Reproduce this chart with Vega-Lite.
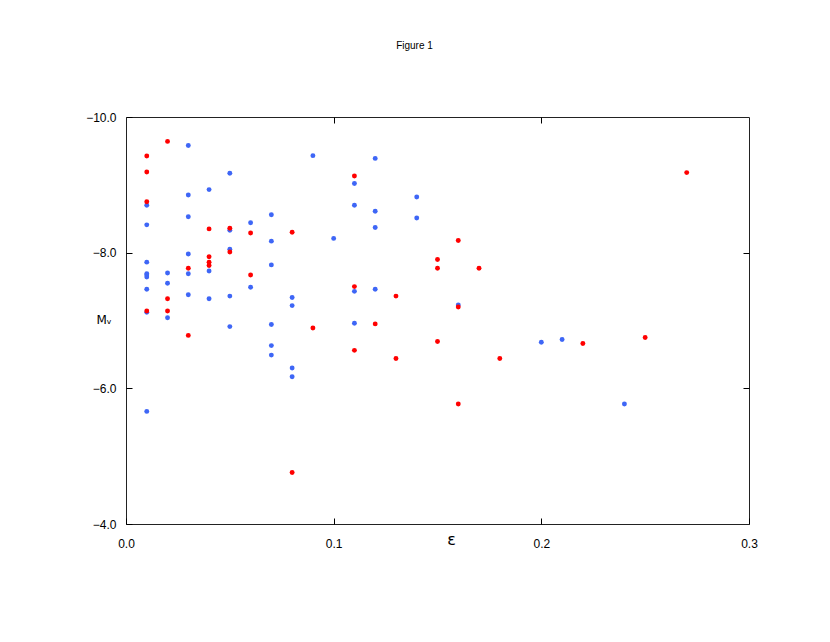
{
  "$schema": "https://vega.github.io/schema/vega-lite/v6.json",
  "width": 623,
  "height": 407,
  "autosize": {"type": "none"},
  "padding": {"left": 126, "top": 117, "right": 81, "bottom": 118},
  "background": "white",
  "config": {"view": {"stroke": "#222222", "strokeWidth": 1}, "font": "Liberation Sans"},
  "title": {"text": "Figure 1", "fontSize": 10, "fontWeight": "normal", "font": "Liberation Sans", "color": "#000000", "anchor": "middle", "frame": "group", "baseline": "alphabetic", "offset": 52, "dx": -23},
  "data": {"values": [
    {"e": 0.01, "m": -8.70, "s": "blue"}, {"e": 0.01, "m": -8.41, "s": "blue"}, {"e": 0.01, "m": -7.86, "s": "blue"},
    {"e": 0.01, "m": -7.69, "s": "blue"}, {"e": 0.01, "m": -7.67, "s": "blue"}, {"e": 0.01, "m": -7.64, "s": "blue"},
    {"e": 0.01, "m": -7.46, "s": "blue"}, {"e": 0.01, "m": -7.12, "s": "blue"}, {"e": 0.01, "m": -5.66, "s": "blue"},
    {"e": 0.02, "m": -7.70, "s": "blue"}, {"e": 0.02, "m": -7.55, "s": "blue"}, {"e": 0.02, "m": -7.04, "s": "blue"},
    {"e": 0.03, "m": -9.58, "s": "blue"}, {"e": 0.03, "m": -8.85, "s": "blue"}, {"e": 0.03, "m": -8.53, "s": "blue"},
    {"e": 0.03, "m": -7.98, "s": "blue"}, {"e": 0.03, "m": -7.69, "s": "blue"}, {"e": 0.03, "m": -7.38, "s": "blue"},
    {"e": 0.04, "m": -8.93, "s": "blue"}, {"e": 0.04, "m": -7.73, "s": "blue"}, {"e": 0.04, "m": -7.32, "s": "blue"},
    {"e": 0.05, "m": -9.17, "s": "blue"}, {"e": 0.05, "m": -8.33, "s": "blue"}, {"e": 0.05, "m": -8.05, "s": "blue"},
    {"e": 0.05, "m": -7.36, "s": "blue"}, {"e": 0.05, "m": -6.91, "s": "blue"},
    {"e": 0.06, "m": -8.44, "s": "blue"}, {"e": 0.06, "m": -7.49, "s": "blue"},
    {"e": 0.07, "m": -8.56, "s": "blue"}, {"e": 0.07, "m": -8.17, "s": "blue"}, {"e": 0.07, "m": -7.82, "s": "blue"},
    {"e": 0.07, "m": -6.94, "s": "blue"}, {"e": 0.07, "m": -6.63, "s": "blue"}, {"e": 0.07, "m": -6.49, "s": "blue"},
    {"e": 0.08, "m": -7.34, "s": "blue"}, {"e": 0.08, "m": -7.22, "s": "blue"}, {"e": 0.08, "m": -6.30, "s": "blue"},
    {"e": 0.08, "m": -6.17, "s": "blue"},
    {"e": 0.09, "m": -9.43, "s": "blue"},
    {"e": 0.10, "m": -8.21, "s": "blue"},
    {"e": 0.11, "m": -9.02, "s": "blue"}, {"e": 0.11, "m": -8.70, "s": "blue"}, {"e": 0.11, "m": -7.43, "s": "blue"},
    {"e": 0.11, "m": -6.96, "s": "blue"},
    {"e": 0.12, "m": -9.39, "s": "blue"}, {"e": 0.12, "m": -8.61, "s": "blue"}, {"e": 0.12, "m": -8.37, "s": "blue"},
    {"e": 0.12, "m": -7.46, "s": "blue"},
    {"e": 0.14, "m": -8.82, "s": "blue"}, {"e": 0.14, "m": -8.51, "s": "blue"},
    {"e": 0.16, "m": -7.23, "s": "blue"},
    {"e": 0.20, "m": -6.68, "s": "blue"}, {"e": 0.21, "m": -6.72, "s": "blue"}, {"e": 0.24, "m": -5.77, "s": "blue"},
    {"e": 0.01, "m": -9.425, "s": "red"}, {"e": 0.01, "m": -9.19, "s": "red"}, {"e": 0.01, "m": -8.75, "s": "red"},
    {"e": 0.01, "m": -7.14, "s": "red"},
    {"e": 0.02, "m": -9.64, "s": "red"}, {"e": 0.02, "m": -7.32, "s": "red"}, {"e": 0.02, "m": -7.14, "s": "red"},
    {"e": 0.03, "m": -7.77, "s": "red"}, {"e": 0.03, "m": -6.78, "s": "red"},
    {"e": 0.04, "m": -8.35, "s": "red"}, {"e": 0.04, "m": -7.94, "s": "red"}, {"e": 0.04, "m": -7.86, "s": "red"},
    {"e": 0.04, "m": -7.81, "s": "red"},
    {"e": 0.05, "m": -8.36, "s": "red"}, {"e": 0.05, "m": -8.01, "s": "red"},
    {"e": 0.06, "m": -8.29, "s": "red"}, {"e": 0.06, "m": -7.67, "s": "red"},
    {"e": 0.08, "m": -8.30, "s": "red"}, {"e": 0.08, "m": -4.76, "s": "red"},
    {"e": 0.09, "m": -6.89, "s": "red"},
    {"e": 0.11, "m": -9.13, "s": "red"}, {"e": 0.11, "m": -7.50, "s": "red"}, {"e": 0.11, "m": -6.56, "s": "red"},
    {"e": 0.12, "m": -6.95, "s": "red"},
    {"e": 0.13, "m": -7.36, "s": "red"}, {"e": 0.13, "m": -6.44, "s": "red"},
    {"e": 0.15, "m": -7.90, "s": "red"}, {"e": 0.15, "m": -7.77, "s": "red"}, {"e": 0.15, "m": -6.69, "s": "red"},
    {"e": 0.16, "m": -8.18, "s": "red"}, {"e": 0.16, "m": -7.20, "s": "red"}, {"e": 0.16, "m": -5.77, "s": "red"},
    {"e": 0.17, "m": -7.77, "s": "red"},
    {"e": 0.18, "m": -6.44, "s": "red"},
    {"e": 0.22, "m": -6.66, "s": "red"}, {"e": 0.25, "m": -6.75, "s": "red"}, {"e": 0.27, "m": -9.18, "s": "red"}
  ]},
  "layer": [
    {
      "mark": {"type": "point", "filled": true, "size": 24, "opacity": 1},
      "encoding": {
        "x": {"field": "e", "type": "quantitative", "scale": {"domain": [0, 0.3], "nice": false, "zero": false},
          "axis": {"orient": "bottom", "values": [0, 0.1, 0.2, 0.3], "format": ".1f", "domain": false, "grid": false,
            "tickSize": -6, "tickColor": "#000000", "labelFontSize": 12, "labelColor": "#000000", "labelPadding": 29,
            "labelFont": "Liberation Sans", "labelBaseline": "alphabetic", "labelFlush": false, "labelOverlap": false, "labelAlign": "center",
            "title": "ε", "titleX": 325, "titleY": 20, "titleBaseline": "alphabetic", "titleAlign": "center",
            "titleFontWeight": "normal", "titleFontSize": 16, "titleColor": "#000000", "titleFont": "DejaVu Sans"}},
        "y": {"field": "m", "type": "quantitative", "scale": {"domain": [-10, -4], "nice": false, "zero": false, "reverse": true},
          "axis": {"orient": "left", "values": [-10, -8, -6, -4], "format": ".1f", "domain": false, "grid": false,
            "tickSize": -6, "tickColor": "#000000", "labelFontSize": 12, "labelColor": "#000000", "labelPadding": 16,
            "labelFont": "Liberation Sans", "labelFlush": false, "labelOverlap": false, "labelBaseline": "middle",
            "title": "Mᵥ", "titleAngle": 0, "titleX": -30, "titleY": 206, "titleAlign": "left", "titleBaseline": "alphabetic",
            "titleFontWeight": "normal", "titleFontSize": 12, "titleColor": "#000000", "titleFont": "DejaVu Sans"}},
        "color": {"field": "s", "type": "nominal", "scale": {"domain": ["blue", "red"], "range": ["#3e66f6", "#ff0000"]}, "legend": null}
      }
    },
    {
      "mark": {"type": "point", "opacity": 0},
      "encoding": {
        "x": {"field": "e", "type": "quantitative",
          "axis": {"orient": "top", "values": [0.1, 0.2], "labels": false, "domain": false, "grid": false, "tickSize": -6, "tickColor": "#000000", "title": null}},
        "y": {"field": "m", "type": "quantitative",
          "axis": {"orient": "right", "values": [-8, -6], "labels": false, "domain": false, "grid": false, "tickSize": -6, "tickColor": "#000000", "title": null}}
      }
    }
  ],
  "resolve": {"axis": {"x": "independent", "y": "independent"}}
}
